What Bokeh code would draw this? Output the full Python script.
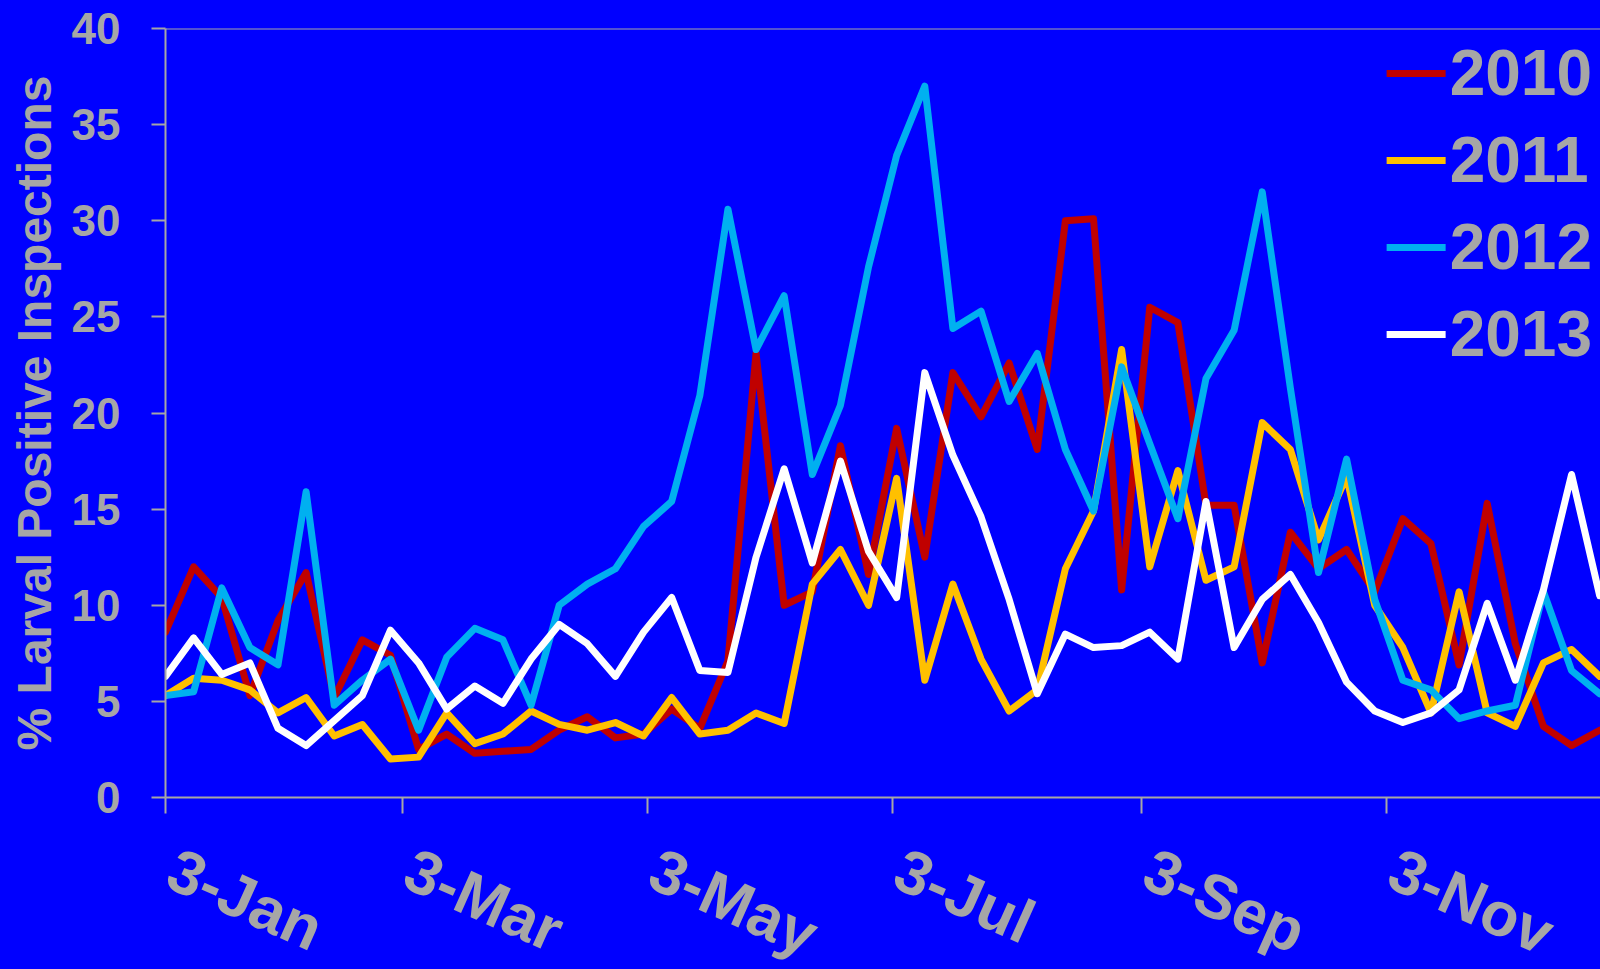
from bokeh.plotting import figure
from bokeh.layouts import column
from bokeh.models import (Range1d, FixedTicker, Span, Legend, LegendItem, ColumnDataSource)
from bokeh.core.properties import value
from bokeh.embed import file_html
from bokeh.resources import INLINE

# ---- data (weekly, starting 3-Jan) ----
weeks = list(range(52))
days = [7 * w for w in weeks]

y2010 = [8.6, 12.0, 10.4, 5.3, 9.2, 11.7, 5.2, 8.2, 7.4, 2.5, 3.3, 2.3, 2.4, 2.5, 3.5, 4.2, 3.1, 3.3,
         4.6, 3.6, 7.1, 23.1, 10.0, 10.7, 18.3, 11.6, 19.2, 12.5, 22.1, 19.8, 22.6, 18.1, 30.0, 30.1,
         10.8, 25.5, 24.7, 15.2, 15.2, 7.0, 13.8, 11.9, 12.9, 10.7, 14.5, 13.2, 6.9, 15.3, 8.0, 3.7,
         2.7, 3.5]
y2011 = [5.3, 6.2, 6.1, 5.6, 4.4, 5.2, 3.2, 3.8, 2.0, 2.1, 4.4, 2.8, 3.3, 4.5, 3.8, 3.5, 3.9, 3.2,
         5.2, 3.3, 3.5, 4.4, 3.85, 11.1, 12.9, 10.0, 16.6, 6.1, 11.1, 7.2, 4.5, 5.6, 11.9, 14.9,
         23.3, 12.0, 17.0, 11.3, 12.0, 19.5, 18.1, 13.4, 16.7, 10.0, 7.8, 4.4, 10.7, 4.4, 3.7, 7.0,
         7.7, 6.3]
y2012 = [5.3, 5.5, 10.9, 7.8, 6.9, 15.9, 4.8, 6.1, 7.2, 3.5, 7.3, 8.8, 8.2, 4.8, 10.0, 11.1, 11.9,
         14.1, 15.4, 20.9, 30.6, 23.3, 26.1, 16.8, 20.4, 27.6, 33.4, 37.0, 24.4, 25.3, 20.6, 23.1,
         18.1, 14.9, 22.4, 18.4, 14.5, 21.8, 24.3, 31.5, 21.3, 11.7, 17.6, 10.3, 6.1, 5.6, 4.1, 4.5,
         4.8, 10.7, 6.6, 5.4]
y2013 = [6.3, 8.3, 6.4, 7.0, 3.6, 2.7, 4.0, 5.3, 8.7, 7.0, 4.6, 5.8, 4.9, 7.2, 9.0, 8.0, 6.3, 8.6,
         10.4, 6.6, 6.5, 12.5, 17.1, 12.2, 17.5, 12.8, 10.4, 22.1, 17.8, 14.6, 10.3, 5.4, 8.5, 7.8,
         7.9, 8.6, 7.2, 15.4, 7.8, 10.3, 11.6, 9.1, 6.0, 4.5, 3.9, 4.4, 5.6, 10.1, 6.1, 10.8, 16.8,
         10.5]

series_names = ["2010", "2011", "2012", "2013"]
series_values = [y2010, y2011, y2012, y2013]
series_colors = ["#C00000", "#FFC000", "#00B0F0", "#FFFFFF"]

tick_days = [0, 59, 120, 181, 243, 304]
tick_labels = ["3-Jan", "3-Mar", "3-May", "3-Jul", "3-Sep", "3-Nov"]
y_ticks = [0, 5, 10, 15, 20, 25, 30, 35, 40]

BG = "#0000FF"
GREY = "#A6A6A6"
FONT = "Liberation Sans"

W = 1600
H_MAIN, H_LAB = 835, 134
x_range = Range1d(0, 357.2)

# ---------------- main chart ----------------
p = figure(width=W, height=H_MAIN, output_backend="svg", toolbar_location=None,
           x_range=x_range, y_range=Range1d(0, 40),
           min_border_left=165, min_border_right=0, min_border_top=28, min_border_bottom=38)
p.background_fill_color = None
p.border_fill_color = BG
p.outline_line_color = None
p.xgrid.visible = False
p.ygrid.visible = False

renderers = []
for name, vals, col in zip(series_names, series_values, series_colors):
    r = p.line(days, vals, line_color=col, line_width=7, line_join="round", line_cap="round")
    renderers.append((name, r))

p.add_layout(Span(location=40, dimension="width", line_color=GREY, line_width=2))

# y axis
ya = p.yaxis[0]
ya.ticker = FixedTicker(ticks=y_ticks)
ya.axis_line_color = GREY
ya.axis_line_width = 2
ya.major_tick_line_color = GREY
ya.major_tick_line_width = 2
ya.major_tick_out = 14
ya.major_tick_in = 0
ya.minor_tick_line_color = None
ya.major_label_text_font = FONT
ya.major_label_text_font_style = "bold"
ya.major_label_text_font_size = "44px"
ya.major_label_text_color = GREY
ya.major_label_standoff = 31
ya.axis_label = "% Larval Positive Inspections"
ya.axis_label_text_font = FONT
ya.axis_label_text_font_style = "bold"
ya.axis_label_text_font_size = "48px"
ya.axis_label_text_color = GREY
ya.axis_label_standoff = 8

# x axis (ticks only here; the date labels are drawn in the strip below on the same x scale)
xa = p.xaxis[0]
xa.ticker = FixedTicker(ticks=tick_days)
xa.major_label_overrides = {d: "" for d in tick_days}
xa.major_label_text_font_size = "1px"
xa.major_label_standoff = 0
xa.axis_line_color = GREY
xa.axis_line_width = 2
xa.major_tick_line_color = GREY
xa.major_tick_line_width = 2
xa.major_tick_out = 16
xa.major_tick_in = 0
xa.minor_tick_line_color = None

legend = Legend(items=[LegendItem(label=n, renderers=[r]) for n, r in renderers],
                location="top_right", orientation="vertical")
legend.background_fill_alpha = 0
legend.border_line_color = None
legend.label_text_font = FONT
legend.label_text_font_style = "bold"
legend.label_text_font_size = "64px"
legend.label_text_color = GREY
legend.glyph_width = 59
legend.glyph_height = 72
legend.label_height = 72
legend.label_standoff = 4
legend.spacing = 13
legend.padding = 9
legend.margin = 8
p.add_layout(legend)

# ---------------- date-label strip (shares the x range) ----------------
q = figure(width=W, height=H_LAB, output_backend="svg", toolbar_location=None,
           x_range=x_range, y_range=Range1d(-H_LAB, 0),
           x_axis_location=None, y_axis_location=None,
           min_border_left=165, min_border_right=0, min_border_top=0, min_border_bottom=0)
q.background_fill_color = None
q.border_fill_color = BG
q.outline_line_color = None
q.xgrid.visible = False
q.ygrid.visible = False

tick_src = ColumnDataSource(dict(day=tick_days, label=tick_labels))
q.text(x="day", y=1, text="label", source=tick_src,
       angle=-0.42, text_align="left", text_baseline="top", x_offset=20,
       text_font=value(FONT), text_font_style="bold", text_font_size="62px",
       text_color=GREY)

layout = column(p, q, spacing=0, styles={"background-color": BG})
open("out.html", "w").write(file_html(layout, INLINE))
